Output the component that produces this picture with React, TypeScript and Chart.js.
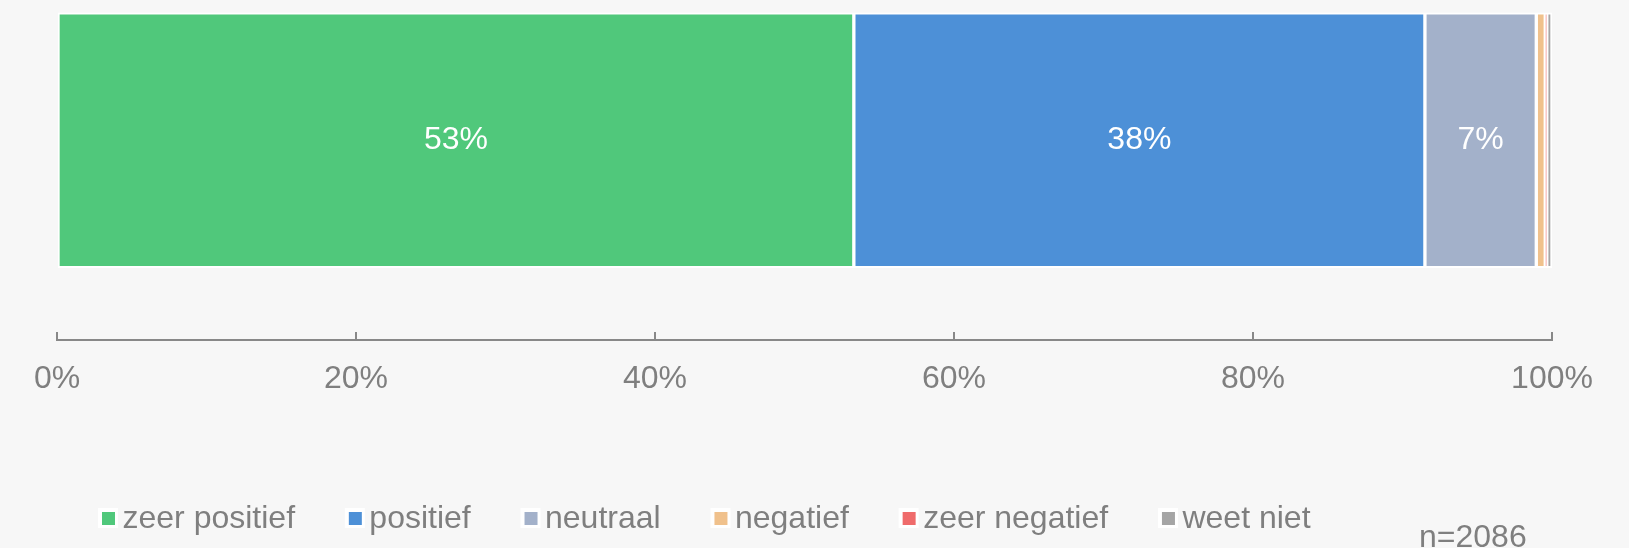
import { useEffect, useRef } from 'react';
import { Chart, registerables } from 'chart.js';

Chart.register(...registerables);

// ---- data ----
const categories = ['zeer positief', 'positief', 'neutraal', 'negatief', 'zeer negatief', 'weet niet'];
const values = [53.3, 38.2, 7.45, 0.6, 0.1, 0.35];
const colors = ['#50C87B', '#4D90D7', '#A3B1CA', '#F0C18C', '#EF6B6B', '#A5A5A5'];
const xTickValues = [0, 20, 40, 60, 80, 100];
const sampleNote = 'n=2086';

const FONT = '"Liberation Sans", Arial, Helvetica, sans-serif';
const TEXT_GREY = '#7F7F7F';
const ROW_POS = 0.6; // the single row's place on the hidden index scale

const barLabels = {
  id: 'barLabels',
  afterDatasetsDraw(chart: any) {
    const ctx = chart.ctx;
    ctx.save();
    ctx.font = `32px ${FONT}`;
    ctx.fillStyle = '#ffffff';
    ctx.textAlign = 'center';
    ctx.textBaseline = 'middle';
    chart.data.datasets.forEach((_ds: any, i: number) => {
      const meta = chart.getDatasetMeta(i);
      const v = values[i];
      if (v < 5) return;
      meta.data.forEach((el: any) => {
        const { x, y } = el.getCenterPoint();
        ctx.fillText(Math.round(v) + '%', x, y);
      });
    });
    ctx.restore();
  },
};

const customLegend = {
  id: 'customLegend',
  afterDraw(chart: any) {
    const ctx = chart.ctx;
    ctx.save();
    ctx.font = `32px ${FONT}`;
    ctx.textAlign = 'left';
    ctx.textBaseline = 'alphabetic';
    let x = 98;
    const boxTop = 508;
    const baseline = 528;
    categories.forEach((label, i) => {
      ctx.fillStyle = '#ffffff';
      ctx.fillRect(x, boxTop, 20, 20);
      ctx.fillStyle = colors[i];
      ctx.fillRect(x + 4, boxTop + 4, 13, 13);
      ctx.fillStyle = TEXT_GREY;
      const tx = x + 24.5;
      ctx.fillText(label, tx, baseline);
      const w = ctx.measureText(label).width;
      x = tx + w + 49.8;
    });
    ctx.fillStyle = TEXT_GREY;
    ctx.fillText(sampleNote, 1419, 547);
    ctx.restore();
  },
};

export default function App() {
  const canvasRef = useRef<HTMLCanvasElement | null>(null);

  useEffect(() => {
    if (!canvasRef.current) return;
    const chart = new Chart(canvasRef.current, {
      type: 'bar',
      data: {
        datasets: categories.map((label, i) => ({
          label,
          data: [{ x: values[i], y: ROW_POS }],
          backgroundColor: colors[i],
          borderColor: '#ffffff',
          borderWidth: 2,
          borderSkipped: false,
          barThickness: 255,
        })),
      },
      plugins: [barLabels, customLegend],
      options: {
        indexAxis: 'y',
        responsive: false,
        animation: false,
        devicePixelRatio: 1,
        layout: { padding: { top: 2, left: 57, right: 77, bottom: 121.6 } },
        plugins: {
          legend: { display: false },
          tooltip: { enabled: false },
        },
        scales: {
          x: {
            type: 'linear',
            stacked: true,
            min: 0,
            max: 100,
            afterBuildTicks: (scale: any) => {
              scale.ticks = xTickValues.map((v) => ({ value: v }));
            },
            ticks: {
              callback: (v: any) => v + '%',
              color: TEXT_GREY,
              font: { family: FONT, size: 32 },
              padding: 28,
              maxRotation: 0,
              autoSkip: false,
            },
            grid: {
              display: true,
              drawOnChartArea: false,
              drawTicks: true,
              tickLength: -8,
              lineWidth: 2,
              tickColor: '#888888',
            },
            border: { display: true, color: '#888888', width: 2 },
          },
          y: {
            type: 'linear',
            stacked: true,
            min: 0,
            max: 1,
            display: false,
          },
        },
      } as any,
    });
    return () => chart.destroy();
  }, []);

  return (
    <div style={{ position: 'fixed', left: 0, top: 0, width: 1629, height: 548, background: '#F7F7F7' }}>
      <canvas ref={canvasRef} width={1629} height={548} style={{ display: 'block' }} />
    </div>
  );
}
